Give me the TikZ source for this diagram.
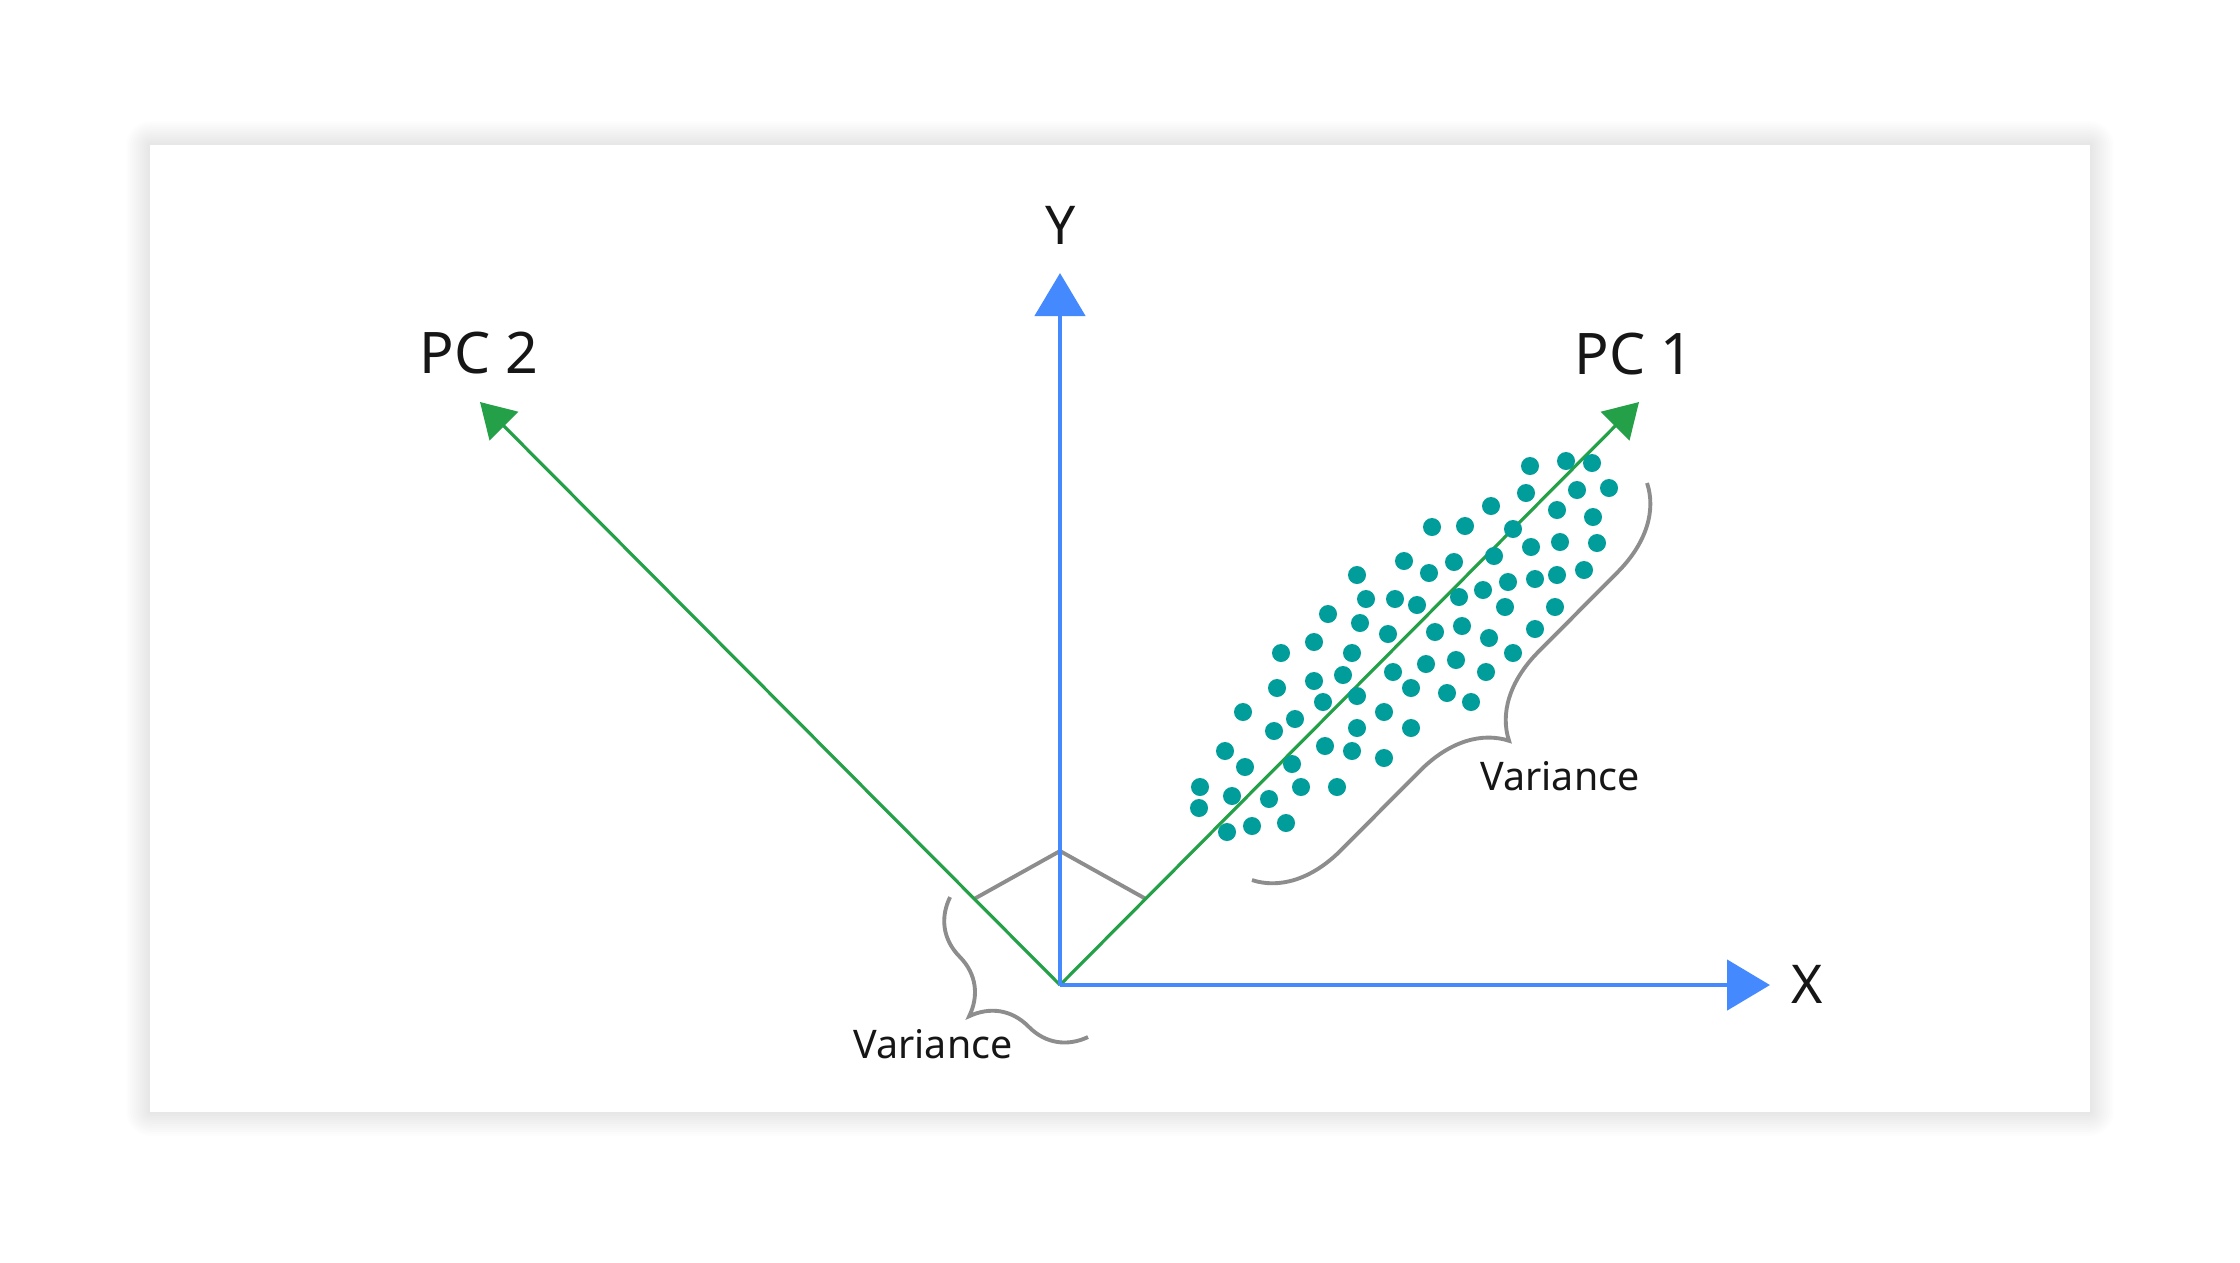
\documentclass[tikz,border=0pt]{standalone}
\usepackage{fontspec}
\setmainfont{Noto Sans}
\usetikzlibrary{arrows.meta}
\usetikzlibrary{decorations.pathreplacing}
\definecolor{axisblue}{HTML}{4589FF}
\definecolor{pcgreen}{HTML}{24A148}
\definecolor{dotteal}{HTML}{009D9A}
\definecolor{bracegray}{HTML}{8D8D8D}
\definecolor{inkblack}{HTML}{161616}
\tikzset{
	label_big/.style = {
		font=\fontsize{16.3}{18}\selectfont,
		text=inkblack,
		inner sep=0pt,
		anchor=base
	},
	label_axis/.style = {
		label_big,
		font=\fontsize{15.2}{17}\selectfont
	},
	label_small/.style = {
		label_big,
		font=\fontsize{11.2}{13}\selectfont
	},
	axis_xy/.style = {
		draw=axisblue,
		line width=1.4pt,
		-{Triangle[length=0.43cm,width=0.5cm]}
	},
	axis_pc/.style = {
		draw=pcgreen,
		line width=0.9pt,
		-{Triangle[length=0.34cm,width=0.4cm]}
	},
	variance_brace/.style = {
		draw=bracegray,
		line width=1.1pt,
		decorate,
		decoration={brace,amplitude=#1}
	},
	right_mark/.style = {
		draw=bracegray,
		line width=1.1pt
	},
	datapoint/.style = {
		circle,
		fill=dotteal,
		inner sep=0pt,
		minimum size=0.18cm
	}
}

\begin{document}
\begin{tikzpicture}[x=0.01cm,y=-0.01cm]
\useasboundingbox (0,0) rectangle (2240,1262);
% card and its shadow
\foreach \s [evaluate=\s as \r using \s*0.6] in {1,...,12}
	\fill[black,opacity=0.006,rounded corners=\r pt] (150-\s*2,145-\s*2) rectangle (2090+\s*2,1112+\s*2);
\fill[white] (150,145) rectangle (2090,1112);

\coordinate (origin) at (1060,985);
\coordinate (ytip) at (1060,273);
\coordinate (xtip) at (1770,985);
\coordinate (pc1tip) at (1639,402);
\coordinate (pc2tip) at (480,402);
\coordinate (mark_l) at (974,899);
\coordinate (mark_top) at (1060,851);
\coordinate (mark_r) at (1146,899);

\node[label_axis] (ylabel) at (1061,244) {Y};
\node[label_axis] (xlabel) at (1807,1003) {X};
\node[label_big] (pc1label) at (1634,374) {PC 1};
\node[label_big] (pc2label) at (479,373) {PC 2};
\node[label_small] (var1label) at (1560,790) {Variance};
\node[label_small] (var2label) at (933,1058) {Variance};

\draw[right_mark] (mark_l) -- (mark_top) -- (mark_r);
\draw[variance_brace=0.84cm] (1647,483) -- (1252,880);
\draw[variance_brace=0.70cm] (1088,1037) -- (950,897);

\draw[axis_pc] (origin) -- (pc1tip);
\draw[axis_pc] (origin) -- (pc2tip);
\draw[axis_xy] (origin) -- (ytip);
\draw[axis_xy] (origin) -- (xtip);

% data points along PC 1
\foreach \x/\y [count=\i] in {
	1404/561, 1357/575, 1366/599, 1395/599, 1417/605, 1328/614, 1360/623, 1388/634,
	1314/642, 1281/653, 1352/653, 1393/672, 1426/664, 1314/681, 1343/675, 1277/688,
	1411/688, 1323/702, 1357/696, 1243/712, 1295/719, 1384/712, 1274/731, 1357/728,
	1411/728, 1225/751, 1325/746, 1352/751, 1384/758, 1245/767, 1292/764, 1200/787,
	1301/787, 1337/787, 1232/796, 1269/799, 1199/808, 1227/832, 1252/826, 1286/823,
	1530/466, 1566/461, 1592/463, 1526/493, 1577/490, 1609/488, 1491/506, 1557/510,
	1593/517, 1432/527, 1465/526, 1513/529, 1531/547, 1560/542, 1597/543, 1429/573,
	1454/562, 1494/556, 1508/582, 1535/579, 1557/575, 1584/570, 1459/597, 1483/590,
	1505/607, 1555/607, 1435/632, 1462/626, 1489/638, 1535/629, 1513/653, 1456/660,
	1486/672, 1447/693, 1471/702}
	\node[datapoint] (dot\i) at (\x,\y) {};
\end{tikzpicture}
\end{document}
